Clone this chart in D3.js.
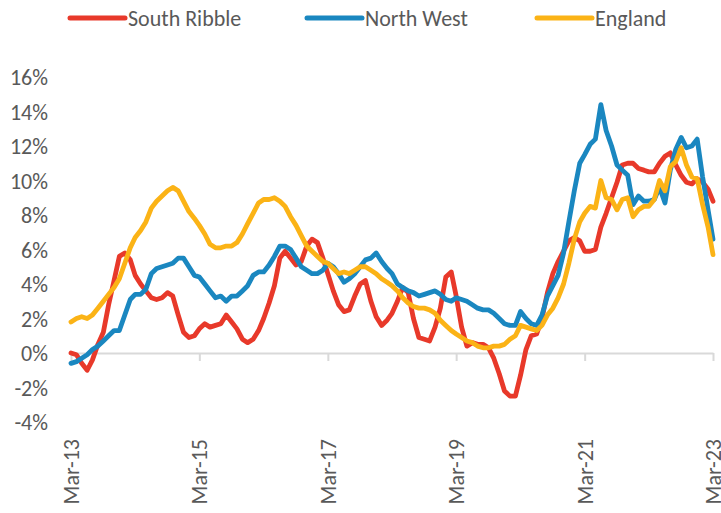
<!DOCTYPE html>
<html>
<head>
<meta charset="utf-8">
<script src="https://cdn.jsdelivr.net/npm/d3@7"></script>
<style>
  body { margin: 0; background: #fff; }
  text { font-family: Carlito, Lato, "Open Sans", sans-serif; fill: #595959; }
</style>
</head>
<body>
<div id="chart"></div>
<script>
"use strict";

var w = 721,
  h = 513;

// monthly series, Mar-13 .. Mar-23 (annual % change)
var seriesNames = ["South Ribble", "North West", "England"];
var seriesColors = ["#e8392a", "#1a87c0", "#fbb316"];

var southRibble = [
  0.0, -0.1, -0.6, -1.0, -0.4, 0.5, 1.2, 2.8, 4.2, 5.6, 5.8, 5.4, 4.5, 4.0, 3.6, 3.2, 3.1, 3.2, 3.5, 3.3,
  2.2, 1.2, 0.9, 1.0, 1.4, 1.7, 1.5, 1.6, 1.7, 2.2, 1.8, 1.4, 0.8, 0.6, 0.8, 1.3, 2.0, 2.9, 3.9, 5.5,
  5.9, 5.5, 5.1, 5.3, 6.2, 6.6, 6.4, 5.5, 4.6, 3.6, 2.8, 2.4, 2.5, 3.3, 4.0, 4.2, 3.0, 2.1, 1.6, 1.9,
  2.3, 3.0, 3.8, 3.5, 2.0, 0.9, 0.8, 0.7, 1.5, 2.6, 4.4, 4.7, 3.3, 1.5, 0.4, 0.6, 0.5, 0.5, 0.3, -0.3,
  -1.2, -2.2, -2.5, -2.5, -1.3, 0.2, 1.0, 1.1, 2.0, 3.5, 4.6, 5.3, 5.9, 6.5, 6.7, 6.5, 5.9, 5.9, 6.0, 7.3,
  8.1, 9.0, 9.9, 10.9, 11.0, 11.0, 10.7, 10.6, 10.5, 10.5, 11.0, 11.4, 11.6, 10.9, 10.3, 9.9, 9.8, 10.1, 9.9, 9.5,
  8.8
];
var northWest = [
  -0.6, -0.5, -0.3, -0.1, 0.2, 0.4, 0.7, 1.0, 1.3, 1.3, 2.2, 3.1, 3.4, 3.4, 3.7, 4.6, 4.9, 5.0, 5.1, 5.2,
  5.5, 5.5, 5.0, 4.5, 4.4, 4.0, 3.6, 3.2, 3.3, 3.0, 3.3, 3.3, 3.6, 3.9, 4.5, 4.7, 4.7, 5.1, 5.6, 6.2,
  6.2, 6.0, 5.5, 5.0, 4.8, 4.6, 4.6, 4.8, 5.2, 5.0, 4.6, 4.1, 4.3, 4.6, 5.0, 5.4, 5.5, 5.8, 5.3, 4.9,
  4.6, 4.0, 3.8, 3.6, 3.5, 3.3, 3.4, 3.5, 3.6, 3.4, 3.1, 3.0, 3.2, 3.1, 3.0, 2.8, 2.6, 2.5, 2.5, 2.3,
  2.0, 1.7, 1.6, 1.6, 2.4, 2.0, 1.7, 1.6, 2.2, 3.3, 3.9, 4.5, 5.8, 7.6, 9.4, 11.0, 11.5, 12.1, 12.4, 14.4,
  12.9, 12.0, 10.9, 10.6, 10.3, 8.6, 9.1, 8.8, 8.8, 8.9, 9.6, 8.7, 10.6, 11.8, 12.5, 11.9, 12.0, 12.4, 10.2, 8.3,
  6.6
];
var england = [
  1.8, 2.0, 2.1, 2.0, 2.2, 2.6, 3.0, 3.4, 3.8, 4.3, 5.2, 6.1, 6.7, 7.1, 7.6, 8.4, 8.8, 9.1, 9.4, 9.6,
  9.4, 8.8, 8.2, 7.8, 7.4, 6.9, 6.3, 6.1, 6.1, 6.2, 6.2, 6.4, 6.9, 7.5, 8.1, 8.7, 8.9, 8.9, 9.0, 8.8,
  8.5, 7.9, 7.4, 6.8, 6.2, 5.9, 5.6, 5.3, 5.2, 4.9, 4.6, 4.7, 4.6, 4.8, 5.0, 5.0, 4.8, 4.6, 4.3, 4.1,
  3.9, 3.6, 3.2, 2.9, 2.7, 2.6, 2.6, 2.5, 2.3, 1.9, 1.6, 1.3, 1.1, 0.9, 0.7, 0.6, 0.4, 0.3, 0.3, 0.4,
  0.4, 0.5, 0.8, 1.0, 1.6, 1.5, 1.4, 1.3, 1.6, 2.2, 2.6, 3.2, 4.0, 5.2, 6.6, 7.6, 8.1, 8.5, 8.4, 10.0,
  9.0, 8.9, 8.3, 8.9, 9.0, 7.9, 8.3, 8.5, 8.5, 8.9, 10.0, 9.4, 10.8, 11.1, 11.9, 10.9, 10.2, 10.1, 8.6, 7.3,
  5.7
];

var yTicks = [-4, -2, 0, 2, 4, 6, 8, 10, 12, 14, 16];
var xTickLabels = ["Mar-13", "Mar-15", "Mar-17", "Mar-19", "Mar-21", "Mar-23"];

var parseMonth = d3.timeParse("%b-%y");
var months = d3.timeMonth.range(parseMonth("Mar-13"), d3.timeMonth.offset(parseMonth("Mar-23"), 1));

var svg = d3.select("#chart").append("svg").attr("width", w).attr("height", h);

var x = d3.scaleTime()
  .domain([months[0], months[months.length - 1]])
  .range([71, 713]);

var y = d3.scaleLinear()
  .domain([-4, 16])
  .range([422, 77]);

/**
 * Axes: value labels on the left, zero line with ticks, rotated month labels.
 */
var drawAxes = function () {
  var yAxis = svg.append("g")
    .attr("transform", "translate(48,0)")
    .call(d3.axisLeft(y).tickValues(yTicks).tickSize(0).tickPadding(0)
      .tickFormat(function (d) { return d + "%"; }));
  yAxis.select(".domain").remove();
  yAxis.selectAll("text").style("font-size", "22px").attr("dy", "0.35em");

  var xAxis = svg.append("g")
    .attr("transform", "translate(0," + y(0) + ")")
    .call(d3.axisBottom(x)
      .tickValues(xTickLabels.map(parseMonth))
      .tickSize(8)
      .tickSizeOuter(0)
      .tickFormat(""));
  xAxis.select(".domain").attr("stroke", "#d9d9d9").attr("stroke-width", 2);
  xAxis.selectAll(".tick line").attr("stroke", "#d9d9d9").attr("stroke-width", 2);

  svg.append("g")
    .selectAll("text")
    .data(xTickLabels)
    .enter()
    .append("text")
    .attr("transform", function (d) {
      return "translate(" + (x(parseMonth(d)) + 8) + ",439) rotate(-90)";
    })
    .attr("text-anchor", "end")
    .style("font-size", "22px")
    .text(function (d) { return d; });
};

/**
 * Draw the three series, first series at the bottom.
 */
var drawLines = function () {
  var line = d3.line()
    .x(function (d, i) { return x(months[i]); })
    .y(function (d) { return y(d); });

  [southRibble, northWest, england].map(function (values, k) {
    svg.append("path")
      .datum(values)
      .attr("d", line)
      .attr("fill", "none")
      .attr("stroke", seriesColors[k])
      .attr("stroke-width", 4.8)
      .attr("stroke-linejoin", "round")
      .attr("stroke-linecap", "round");
  });
};

/**
 * Legend row across the top.
 */
var drawLegend = function () {
  var legendX = [70, 307, 537];
  var item = svg.append("g")
    .selectAll("g")
    .data(seriesNames)
    .enter()
    .append("g")
    .attr("transform", function (d, i) { return "translate(" + legendX[i] + ",18)"; });

  item.append("line")
    .attr("x1", 0).attr("x2", 55)
    .attr("stroke", function (d, i) { return seriesColors[i]; })
    .attr("stroke-width", 5)
    .attr("stroke-linecap", "round");

  item.append("text")
    .attr("x", 58)
    .attr("dy", "0.35em")
    .style("font-size", "22px")
    .text(function (d) { return d; });
};

drawAxes();
drawLines();
drawLegend();
</script>
</body>
</html>
